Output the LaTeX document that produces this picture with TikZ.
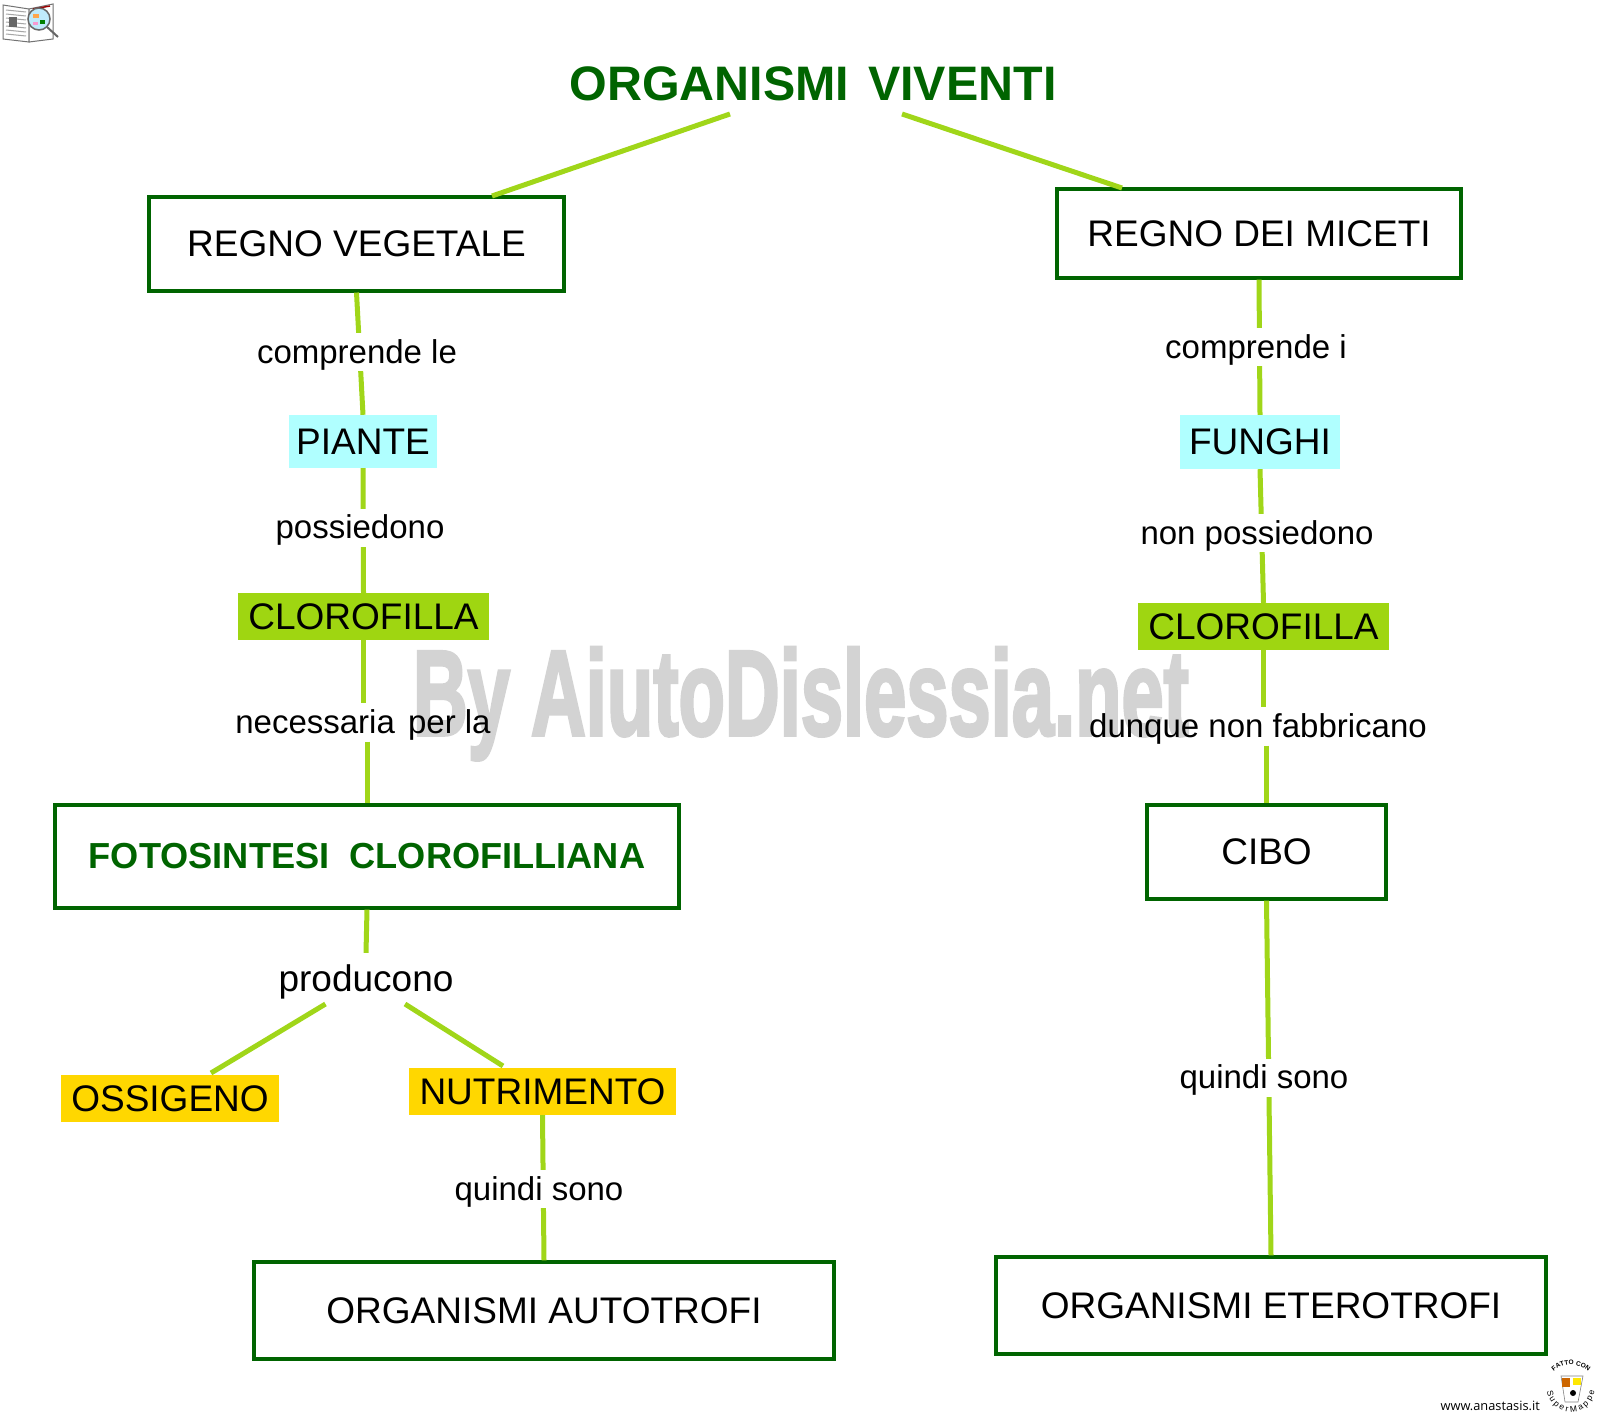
\documentclass[tikz,border=0pt]{standalone}
\usepackage{fontspec}
\setmainfont{Liberation Sans}
\newfontfamily\wmfont[FakeBold=3]{Liberation Sans}
\newfontfamily\webfont{Open Sans}
\usetikzlibrary{calc, decorations.text}
\definecolor{mapdark}{HTML}{006400}
\definecolor{maplink}{HTML}{A0D619}
\definecolor{mapcyan}{HTML}{B0FFFF}
\definecolor{maplime}{HTML}{9FD611}
\definecolor{mapgold}{HTML}{FFD700}
\definecolor{mapmark}{HTML}{D3D3D3}

\begin{document}
\begin{tikzpicture}[
  x=1pt, y=-1pt,
  framed/.style = {draw=mapdark, line width=3.1pt, fill=white, inner sep=0pt, align=center,
                   font=\fontsize{37}{37}\selectfont},
  tagged/.style = {inner sep=0pt, align=center, font=\fontsize{37}{37}\selectfont},
  verb/.style   = {inner sep=0pt, text height=30pt, text depth=8pt,
                   font=\fontsize{33}{33}\selectfont},
  link/.style   = {draw=maplink, line width=5pt}
]
  \useasboundingbox (0,0) rectangle (1600,1413);

  % Watermark, under everything else
  \node[inner sep=0pt, anchor=base, text=mapmark] (mark) at (801,735)
    {\resizebox{776pt}{\height}{\fontsize{121}{121}\wmfont\bfseries By AiutoDislessia.net}};

  % Title
  \node[inner sep=0pt, text=mapdark, font=\fontsize{48.4}{50}\selectfont\bfseries] (title) at (813,84) {ORGANISMI\hspace{19pt}VIVENTI};

  % Kingdoms
  \node[framed, minimum width=415pt, minimum height=94pt] (regnov) at (356.5,244) {REGNO VEGETALE};
  \node[framed, minimum width=404pt, minimum height=89pt] (regnom) at (1259,233.5) {REGNO DEI MICETI};

  % Left column
  \node[tagged, fill=mapcyan, minimum width=148pt, minimum height=53pt] (piante) at (363,441.5) {PIANTE};
  \node[tagged, fill=maplime, minimum width=251pt, minimum height=47pt] (clorov) at (363.5,616.5) {CLOROFILLA};
  \node[framed, minimum width=624pt, minimum height=103pt, text=mapdark,
        font=\fontsize{36.2}{36}\selectfont\bfseries] (fotosintesi) at (367,856.5) {FOTOSINTESI~~CLOROFILLIANA};
  \node[tagged, fill=mapgold, minimum width=218pt, minimum height=47pt] (ossigeno) at (170,1098.5) {OSSIGENO};
  \node[tagged, fill=mapgold, minimum width=267pt, minimum height=47pt] (nutrimento) at (542.5,1091.5) {NUTRIMENTO};
  \node[framed, minimum width=580pt, minimum height=97pt] (autotrofi) at (544,1310.5) {ORGANISMI AUTOTROFI};

  % Right column
  \node[tagged, fill=mapcyan, minimum width=160pt, minimum height=54pt] (funghi) at (1260,442) {FUNGHI};
  \node[tagged, fill=maplime, minimum width=251pt, minimum height=47pt] (clorom) at (1263.5,626.5) {CLOROFILLA};
  \node[framed, minimum width=239pt, minimum height=94pt] (cibo) at (1266.5,852) {CIBO};
  \node[framed, minimum width=550pt, minimum height=97pt] (eterotrofi) at (1271,1305.5) {ORGANISMI ETEROTROFI};

  % Free ends of the slanted links
  \coordinate (titleL) at (730,114);
  \coordinate (titleR) at (902,114);
  \coordinate (regnovIn) at (492,196);
  \coordinate (regnomIn) at (1122,188);
  \coordinate (prodL) at (325.5,1004);
  \coordinate (prodR) at (405,1004);
  \coordinate (ossigenoIn) at (211,1073);
  \coordinate (nutrimentoIn) at (503,1066);

  \node[inner sep=0pt, text height=38pt, text depth=13pt, font=\fontsize{37}{37}\selectfont] (producono) at (366,978.5) {producono};

  % These two lie over the watermark, so they get no white backing
  \node[verb] (neceL) at (363,722.5) {necessaria\hspace{4pt} per la};
  \node[verb] (dunqR) at (1258,726.5) {dunque non fabbricano};

  % Links
  \draw[link] (titleL) -- (regnovIn);
  \draw[link] (titleR) -- (regnomIn);
  \draw[link] (regnov.south) -- (piante.north);
  \draw[link] (piante.south) -- (clorov.north);
  \draw[link] (clorov.south) -- (clorov.south |- neceL.north);
  \draw[link] (fotosintesi.north |- neceL.south) -- (fotosintesi.north);
  \draw[link] (fotosintesi.south) -- (producono.north);
  \draw[link] (prodL) -- (ossigenoIn);
  \draw[link] (prodR) -- (nutrimentoIn);
  \draw[link] (nutrimento.south) -- (autotrofi.north);
  \draw[link] (regnom.south) -- (funghi.north);
  \draw[link] (funghi.south) -- (clorom.north);
  \draw[link] (clorom.south) -- (clorom.south |- dunqR.north);
  \draw[link] (cibo.north |- dunqR.south) -- (cibo.north);
  \draw[link] (cibo.south) -- (eterotrofi.north);

  % Link labels sit on top of the links
  \node[verb, fill=white] (compL) at (357,352) {comprende le};
  \node[verb, fill=white] (possL) at (360,527.5) {possiedono};
  \node[verb, fill=white] (quinL) at (539,1189) {quindi sono};
  \node[verb, fill=white] (compR) at (1256,347) {comprende i};
  \node[verb, fill=white] (possR) at (1257,533) {non possiedono};
  \node[verb, fill=white] (quinR) at (1264,1077.5) {quindi sono};

  % Book icon, top left
  \draw[fill=white, draw=black!55, line width=1pt] (3,5) -- (29,9) -- (29,42) -- (3,39) -- cycle;
  \draw[fill=white, draw=black!55, line width=1pt] (29,9) -- (53,4) -- (53,39) -- (29,42) -- cycle;
  \foreach \yy in {10,14,18,22,26,30,34} {
    \draw[black!35, line width=1pt] (6,\yy) -- (26,\yy+2);
  }
  \fill[black!60] (9,17) rectangle (17,27);
  \draw[red!60!black, line width=1.5pt] (33,9) -- (50,6);
  \draw[black!60, line width=2pt] (47,27) -- (58,37);
  \draw[black!60, fill=cyan!25, line width=1.5pt] (39,19) circle[radius=11pt];
  \fill[orange!70] (33,14) rectangle (39,18);
  \fill[green!50!black] (40,20) rectangle (45,24);
  \fill[magenta!40] (33,22) rectangle (38,25);

  % Logo, bottom right
  \node[inner sep=0pt, anchor=base east, font=\fontsize{12.8}{14}\webfont] (site) at (1540,1410) {www.anastasis.it};
  \coordinate (logo) at (1571,1388);
  \draw[black!50, fill=white, line width=.6pt] ($(logo)+(-10,-12)$) -- ($(logo)+(12,-12)$) -- ($(logo)+(7,14)$) -- ($(logo)+(-6,14)$) -- cycle;
  \fill[orange!80!black] ($(logo)+(-9,-10)$) rectangle ($(logo)+(-1,-1)$);
  \fill[yellow!90!orange] ($(logo)+(2,-10)$) rectangle ($(logo)+(10,-3)$);
  \fill[black] ($(logo)+(2,5)$) circle[radius=3pt];
  \path[decorate, decoration={text along path, text align=center,
    text={|\fontsize{6.5}{7}\selectfont\bfseries|FATTO CON}}]
    ($(logo)+(-19,-15)$) .. controls ($(logo)+(-8,-26)$) and ($(logo)+(8,-26)$) .. ($(logo)+(19,-15)$);
  \path[decorate, decoration={text along path, text align={fit to path},
    text={|\fontsize{8.5}{9}\selectfont|SuperMappe}}]
    ($(logo)+(-24,3)$) arc[start angle=187, end angle=353, radius=24pt];
\end{tikzpicture}
\end{document}
